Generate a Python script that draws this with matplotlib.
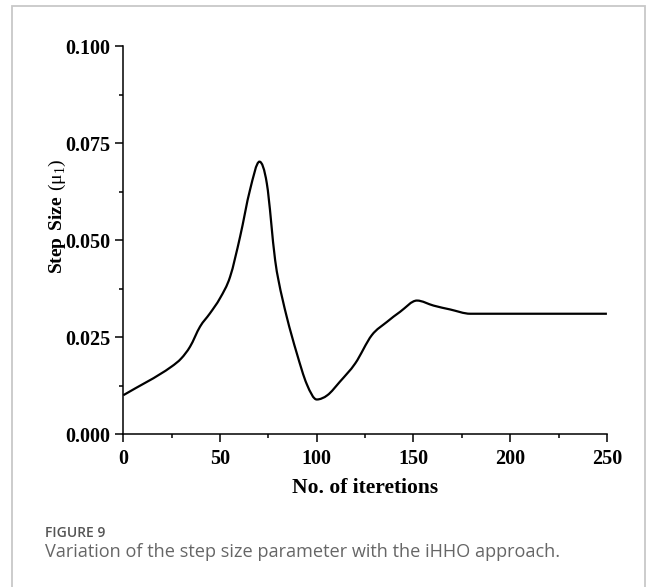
import matplotlib
matplotlib.use("Agg")
import matplotlib.pyplot as plt
import numpy as np
from matplotlib.patches import Rectangle, PathPatch
from matplotlib.path import Path
from matplotlib.ticker import MultipleLocator

# step size curve
iterations = [0, 25, 30, 34.5, 39.7, 44.8, 50, 55.2, 60.4, 65.5, 70.4, 74.2, 78.5, 80.2,
              84.5, 89.7, 94.9, 100, 105.5, 112, 119.9, 128.5, 136.3, 143.1, 151.8,
              160.4, 169, 179.4, 250]
step_size = [0.0100, 0.0174, 0.0195, 0.0225, 0.0277, 0.0311, 0.0350, 0.0405, 0.0509,
             0.0629, 0.0702, 0.0646, 0.0448, 0.0397, 0.0302, 0.0208, 0.0128, 0.0089,
             0.0100, 0.0135, 0.0182, 0.0255, 0.0289, 0.0315, 0.0344, 0.0331, 0.0321,
             0.0310, 0.0310]

x_ticks = [0, 50, 100, 150, 200, 250]
y_ticks = [0.000, 0.025, 0.050, 0.075, 0.100]


def spline_path(xs, ys):
    # smooth (monotone hermite) connection, drawn as bezier segments
    xs = np.asarray(xs, float)
    ys = np.asarray(ys, float)
    h = np.diff(xs)
    d = np.diff(ys) / h
    m = np.zeros_like(ys)
    m[0], m[-1] = d[0], d[-1]
    for i in range(1, len(xs) - 1):
        if d[i - 1] * d[i] > 0:
            m[i] = (d[i - 1] + d[i]) / 2
    verts = [(xs[0], ys[0])]
    codes = [Path.MOVETO]
    for i in range(len(h)):
        verts += [(xs[i] + h[i] / 3, ys[i] + m[i] * h[i] / 3),
                  (xs[i + 1] - h[i] / 3, ys[i + 1] - m[i + 1] * h[i] / 3),
                  (xs[i + 1], ys[i + 1])]
        codes += [Path.CURVE4] * 3
    return Path(verts, codes)


plt.rcParams['mathtext.fontset'] = 'custom'
plt.rcParams['mathtext.rm'] = 'Liberation Serif'
plt.rcParams['mathtext.bf'] = 'Liberation Serif:bold'

fig = plt.figure(figsize=(6.54, 5.87), dpi=100)
ax = fig.add_axes([0.1885, 0.2606, 0.7395, 0.661])

ax.add_patch(PathPatch(spline_path(iterations, step_size), facecolor='none',
                       edgecolor='black', lw=1.6))

ax.set_xlim(0, 250)
ax.set_ylim(0, 0.1)
ax.set_xticks(x_ticks)
ax.set_yticks(y_ticks)
ax.xaxis.set_minor_locator(MultipleLocator(25))
ax.yaxis.set_minor_locator(MultipleLocator(0.0125))
ax.set_yticklabels([f"{v:.3f}" for v in y_ticks])

for s in ['top', 'right']:
    ax.spines[s].set_visible(False)
for s in ['left', 'bottom']:
    ax.spines[s].set_linewidth(1.1)

ax.tick_params(which='major', direction='out', length=5.5, width=1.1, pad=4)
ax.tick_params(axis='x', which='major', pad=5.5)
ax.tick_params(which='minor', direction='out', length=3, width=1.1)
for lab in ax.get_xticklabels() + ax.get_yticklabels():
    lab.set_fontfamily('Liberation Serif')
    lab.set_fontweight('bold')
    lab.set_fontsize(14.5)

ax.set_xlabel('No. of iteretions', fontfamily='Liberation Serif', fontweight='bold',
              fontsize=15.5, labelpad=6)
ax.set_ylabel(r'$\mathbf{Step\ Size}\ (\mathrm{μ}_1)$', fontsize=14)
ax.yaxis.set_label_coords(-0.114, 0.56)

# outer frame and caption
fig.patches.append(Rectangle((11.7 / 654, -0.1), (645 - 11.7) / 654, 1.1 - 6 / 587,
                             transform=fig.transFigure, fill=False,
                             edgecolor='#c8c8c8', lw=1.3))
fig.text(45 / 654, 1 - 533 / 587, 'FIGURE 9', fontfamily='Open Sans', fontweight='semibold',
         fontsize=10, color='#555555', va='center', ha='left')
fig.text(45 / 654, 1 - 552 / 587, 'Variation of the step size parameter with the iHHO approach.',
         fontfamily='Open Sans', fontsize=13.1, color='#666666', va='center', ha='left')

fig.savefig('out.png', dpi=100)
